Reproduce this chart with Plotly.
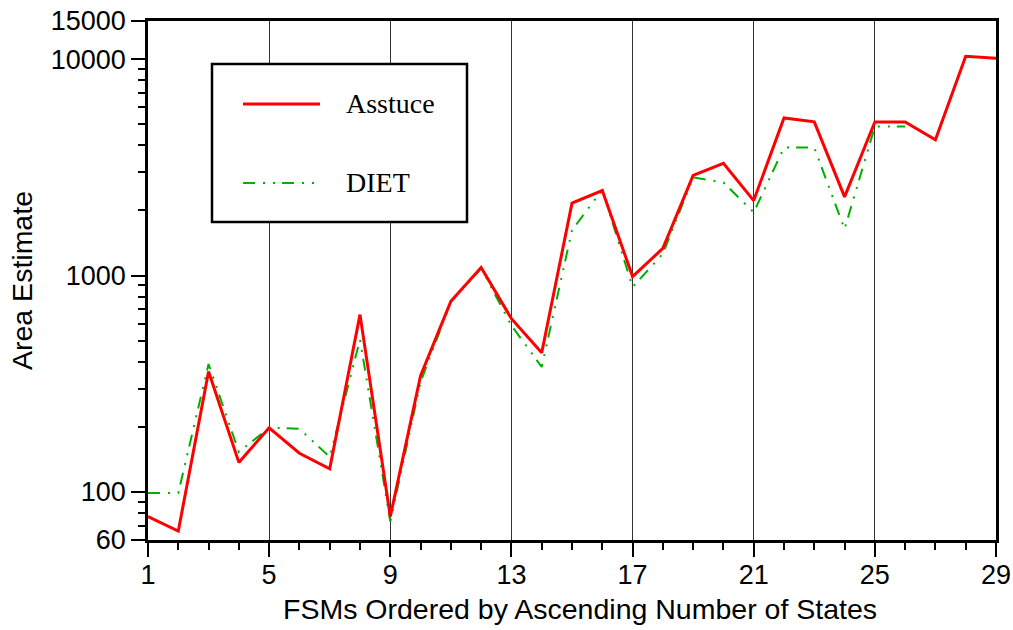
import plotly.graph_objects as go

# ---- data ----
fsm_index = list(range(1, 30))
assstuce_area = [77, 66, 360, 137, 198, 151, 128, 660, 77, 345, 760, 1090, 632, 440,
                 2160, 2470, 990, 1335, 2900, 3300, 2220, 5350, 5130, 2310, 5120, 5120,
                 4240, 10300, 10080]
diet_index = list(range(1, 27))
diet_area = [99, 99, 390, 153, 198, 196, 145, 506, 73, 322, 755, 1080, 588, 378,
             1620, 2490, 885, 1260, 2840, 2690, 1960, 3900, 3900, 1640, 4880, 4880]

x_major = [1, 5, 9, 13, 17, 21, 25, 29]
x_minor = [i for i in range(1, 30) if i not in x_major]
y_major = [60, 100, 1000, 10000, 15000]
y_minor = [70, 80, 90] + [k * 100 for k in range(2, 10)] + [k * 1000 for k in range(2, 10)]

series_names = ["Asstuce", "DIET"]
RED = "#ff0000"
GREEN = "#00b000"
DIET_DASH = "12px,8px,2px,8px,2px,7px"

W, H = 1013, 630
L, R, T, B = 148, 17, 21, 90
PW, PH = W - L - R, H - T - B


def px(xp):
    return (xp - L) / PW


def py(yp):
    return (H - B - yp) / PH


fig = go.Figure()
fig.add_trace(go.Scatter(x=diet_index, y=diet_area, mode="lines", name=series_names[1],
                         line=dict(color=GREEN, width=2, dash=DIET_DASH),
                         showlegend=False))
fig.add_trace(go.Scatter(x=fsm_index, y=assstuce_area, mode="lines", name=series_names[0],
                         line=dict(color=RED, width=3), showlegend=False))

tickfont = dict(family="Liberation Sans, Arial, sans-serif", size=27, color="black")

fig.update_xaxes(range=[1, 29], tickmode="array", tickvals=x_major,
                 ticktext=[str(v) for v in x_major],
                 ticks="outside", ticklen=14, tickwidth=1.5, tickcolor="black",
                 ticklabelstandoff=-5,
                 showgrid=True, gridcolor="#333333", gridwidth=1,
                 showline=True, linecolor="black", linewidth=2.5, mirror=True,
                 zeroline=False, tickfont=tickfont,
                 minor=dict(tickmode="array", tickvals=x_minor, ticks="outside",
                            ticklen=7, tickwidth=1.5, tickcolor="black", showgrid=False))
fig.update_yaxes(type="log", range=[1.77815, 4.17609], tickmode="array",
                 tickvals=y_major, ticktext=[str(v) for v in y_major],
                 ticks="outside", ticklen=14, tickwidth=1.5, tickcolor="black",
                 showgrid=False, showline=True, linecolor="black", linewidth=2.5,
                 mirror=True, zeroline=False, tickfont=tickfont,
                 minor=dict(tickmode="array", tickvals=y_minor, ticks="outside",
                            ticklen=7, tickwidth=1.5, tickcolor="black", showgrid=False))

# ---- legend box (custom) ----
shapes = [
    dict(type="rect", xref="paper", yref="paper", x0=px(212), x1=px(467),
         y0=py(222), y1=py(64), line=dict(color="black", width=2.5),
         fillcolor="white", layer="above"),
    dict(type="line", xref="paper", yref="paper", x0=px(243), x1=px(320),
         y0=py(104), y1=py(104), line=dict(color=RED, width=3), layer="above"),
    dict(type="line", xref="paper", yref="paper", x0=px(243), x1=px(316),
         y0=py(183), y1=py(183), line=dict(color=GREEN, width=2, dash=DIET_DASH),
         layer="above"),
]
legend_font = dict(family="Liberation Serif, Times New Roman, serif", size=28, color="black")
title_font = dict(family="Liberation Sans, Arial, sans-serif", size=28.5, color="black")
annotations = [
    dict(text=series_names[0], xref="paper", yref="paper", x=px(344), y=py(103),
         xanchor="left", yanchor="middle", showarrow=False, font=legend_font),
    dict(text=series_names[1], xref="paper", yref="paper", x=px(344), y=py(182),
         xanchor="left", yanchor="middle", showarrow=False, font=legend_font),
    dict(text="FSMs Ordered by Ascending Number of States", xref="paper", yref="paper",
         x=px(580), y=py(609), xanchor="center", yanchor="middle", showarrow=False,
         font=title_font),
    dict(text="Area Estimate", xref="paper", yref="paper", x=px(22), y=py(281),
         xanchor="center", yanchor="middle", textangle=-90, showarrow=False,
         font=title_font),
]

fig.update_layout(width=W, height=H, margin=dict(l=L, r=R, t=T, b=B, autoexpand=False),
                  plot_bgcolor="white", paper_bgcolor="white", showlegend=False,
                  shapes=shapes, annotations=annotations)

fig.write_html("out.html")
